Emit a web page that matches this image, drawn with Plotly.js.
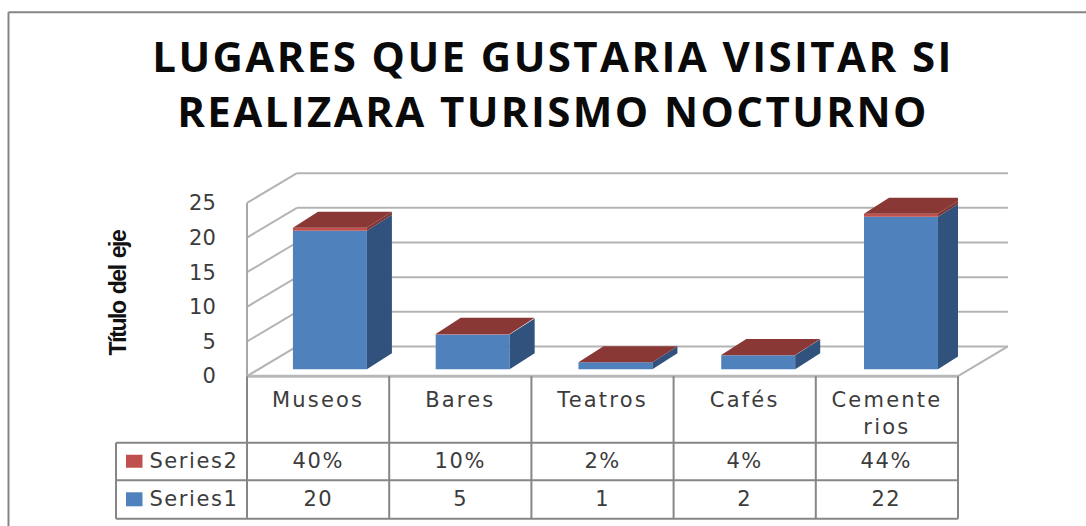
<!DOCTYPE html>
<html><head><meta charset="utf-8">
<script src="https://cdn.plot.ly/plotly-3.0.1.min.js"></script>
<style>
html,body{margin:0;padding:0;background:#fff;overflow:hidden}
.xtick text{letter-spacing:2.2px}
.annotation-text-g text.annotation-text{letter-spacing:1.6px}
.gtitle{letter-spacing:2.4px}
.ytitle{letter-spacing:-1.4px;word-spacing:2px}
</style></head><body><div id="chart" style="width:1086px;height:526px"></div>
<script>
const categories=["Museos","Bares","Teatros","Cafés","Cementerios"];
const categoryLabels=["Museos","Bares","Teatros","Cafés","Cemente<br>rios"];
const series1=[20,5,1,2,22];
const series2=[0.40,0.10,0.02,0.04,0.44];
const yTicks=[0,5,10,15,20,25];

const W=1086,H=526,L=247,R=958,Y0=376,unit=6.92;
const xMax=categories.length,yMin=-2,yMax=26;
const T=Y0-yMax*unit,B=Y0-yMin*unit;
const px=x=>(x-L)/(R-L), py=y=>(B-y)/(B-T), yp=v=>(v-yMin)/(yMax-yMin);
const barW=0.52,barShift=0.083,barPitch=1.004,lift=1.0;
const depthX=0.176,depthY=2.31,wallX=0.351,wallY=4.29;
const font="DejaVu Sans",textCol="#3c3c3c";
const xs=categories.map((c,i)=>0.5+barShift+i*barPitch);
const base2=series1.map(v=>v+lift);

function faces(tops,fill,kind,name){
  let X=[],Y=[];
  tops.forEach((t,i)=>{
    const l=xs[i]-barW/2,r=xs[i]+barW/2;
    if(kind==='top'){X.push(l,r,r+depthX,l+depthX,l,null);Y.push(t,t,t+depthY,t+depthY,t,null);}
    else{const b=kind.bottom[i];X.push(r,r+depthX,r+depthX,r,r,null);Y.push(b,b+depthY,t+depthY,t,b,null);}
  });
  return {type:'scatter',mode:'lines',x:X,y:Y,fill:'toself',fillcolor:fill,line:{width:0},
    cliponaxis:false,hoverinfo:'skip',showlegend:false,name};
}
const top1=series1.map(v=>v+lift),top2=series1.map((v,i)=>v+series2[i]+lift);
const traces=[
 {type:'bar',name:'Series1',x:xs,y:series1,base:series1.map(()=>lift),width:barW,marker:{color:'#4F81BD',line:{width:0}},cliponaxis:false,hoverinfo:'skip'},
 {type:'bar',name:'Series2',x:xs,y:series2,base:base2,width:barW,marker:{color:'#C0504D',line:{width:0}},cliponaxis:false,hoverinfo:'skip'},
 faces(top1,'#31527C',{bottom:series1.map(()=>lift)},'Series1 side'),
 faces(top2,'#7E3533',{bottom:top1},'Series2 side'),
 faces(top2,'#8A3836','top','Series2 top')
];

const shapes=[];
function seg(x0,y0,x1,y1,color,width,layer){
  shapes.push({type:'line',xref:'paper',yref:'paper',x0,y0,x1,y1,layer:layer||'below',line:{color,width}});
}
const gridCol='#b4b4b4';
yTicks.forEach(v=>{
  const c=wallX/xMax;
  seg(0,yp(v),c,yp(v+wallY),gridCol,2);
  seg(c,yp(v+wallY),1+c,yp(v+wallY),gridCol,2);
});
seg(0,yp(0),0,yp(25),'#a8a8a8',2);
seg(0,yp(0),1,yp(0),'#b8b8b8',3);
seg(1,yp(0),1+wallX/xMax,yp(wallY),gridCol,2);

const tblCol='#868686',rows=[442.5,480,518.5],left=116;
for(let i=0;i<=xMax;i++) seg(i/xMax,yp(0),i/xMax,py(rows[2]),tblCol,2,'above');
rows.forEach(r=>seg(px(left),py(r),1,py(r),tblCol,2,'above'));
seg(px(left),py(rows[0]),px(left),py(rows[2]),tblCol,2,'above');
seg(px(8.5),py(12.5),px(W),py(12.5),'#858585',2,'above');
seg(px(8.5),py(12.5),px(8.5),py(H),'#858585',2,'above');
function key(y0,y1,color){shapes.push({type:'rect',xref:'paper',yref:'paper',x0:px(126),x1:px(142.5),y0:py(y0),y1:py(y1),fillcolor:color,line:{width:0},layer:'above'});}
key(454.5,467.5,'#C0504D');key(492,506,'#4F81BD');

const annotations=[];
function cell(x,y,text,xref,anchor){
  annotations.push({xref,yref:'paper',x,y:py(y),text,showarrow:false,xanchor:anchor,yanchor:'middle',font:{family:font,size:21,color:textCol}});
}
cell(px(153),461,'Series2','paper','left');
cell(px(153),498.5,'Series1','paper','left');
series2.forEach((v,i)=>cell(i+0.5,461,Math.round(v*100)+'%','x','center'));
series1.forEach((v,i)=>cell(i+0.5,498.5,String(v),'x','center'));

const layout={
 width:W,height:H,paper_bgcolor:'#fff',plot_bgcolor:'rgba(0,0,0,0)',showlegend:false,barmode:'overlay',
 margin:{l:L,r:W-R,t:T,b:H-B,pad:0},
 title:{text:'LUGARES QUE GUSTARIA VISITAR SI<br>REALIZARA TURISMO NOCTURNO',xref:'container',yref:'container',x:553/W,xanchor:'center',y:1-72/H,yanchor:'middle',
   font:{family:'Open Sans',size:42,weight:700,color:'#0a0a0a'}},
 xaxis:{range:[0,xMax],tickmode:'array',tickvals:categories.map((c,i)=>i+0.5),ticktext:categoryLabels,showgrid:false,zeroline:false,showline:false,
   ticks:'',ticklabelstandoff:-5,tickfont:{family:font,size:21,color:textCol},tickangle:0,fixedrange:true},
 yaxis:{range:[yMin,yMax],tickmode:'array',tickvals:yTicks,ticktext:yTicks.map(String),showgrid:false,zeroline:false,showline:false,
   ticks:'outside',ticklen:26,tickcolor:'rgba(0,0,0,0)',tickfont:{family:font,size:21,color:textCol},fixedrange:true,
   title:{text:'Título del eje',standoff:56,font:{family:'Liberation Sans',size:23,weight:700,color:'#111'}}},
 shapes,annotations
};
Plotly.newPlot('chart',traces,layout,{displayModeBar:false,staticPlot:true});
</script></body></html>
